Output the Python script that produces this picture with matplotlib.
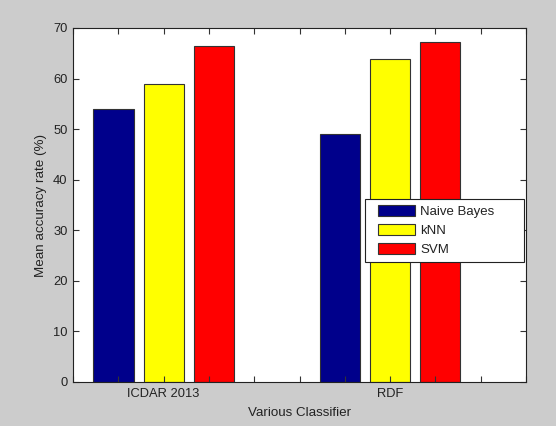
import numpy as np
import matplotlib
matplotlib.use('Agg')
from matplotlib import pyplot as plt
from matplotlib.ticker import MultipleLocator
from matplotlib.container import BarContainer
from matplotlib.legend_handler import HandlerPatch, update_from_first_child

## Data
groups = ['ICDAR 2013', 'RDF']
series = ['Naive Bayes', 'kNN', 'SVM']
naive_bayes = [54.0, 49.0]
knn = [59.0, 63.9]
svm = [66.4, 67.2]
colors = ['#00008b', '#ffff00', '#ff0000']

plt.rcParams['font.family'] = ['Liberation Sans', 'DejaVu Sans']
plt.rcParams['font.size'] = 9

fig = plt.figure(figsize=(5.56, 4.26), dpi=100, facecolor='#cccccc')
ax = fig.add_axes([73/556, 1-382/426, (526-73)/556, (382-28)/426])

x = np.arange(1, len(groups)+1)
width = 0.177
offset = 0.221
for i, (vals, name) in enumerate(zip([naive_bayes, knn, svm], series)):
    ax.bar(x + (i-1)*offset, vals, width, color=colors[i], edgecolor='#333333',
           linewidth=0.8, label=name)

ax.set_xlim(0.6, 2.6)
ax.set_ylim(0, 70)
ax.set_xticks(x)
ax.set_xticklabels(groups)
ax.xaxis.set_minor_locator(MultipleLocator(0.2))
ax.yaxis.set_major_locator(MultipleLocator(10))
ax.tick_params(which='both', direction='in', top=True, right=True, length=4,
               width=0.8, colors='#333333', labelcolor='#222222', labelsize=9.3, pad=4)
for sp in ax.spines.values():
    sp.set_color('#222222')
    sp.set_linewidth(0.8)

ax.set_xlabel('Various Classifier', color='#222222', labelpad=5.5, fontsize=9.6)
ax.set_ylabel('Mean accuracy rate (%)', color='#222222', labelpad=4.5, fontsize=9.6)

# legend box, stretched to the width matlab uses
hmap = {BarContainer: HandlerPatch(update_func=update_from_first_child, xpad=0.57, ypad=0.05)}
leg = ax.legend(loc='lower left', bbox_to_anchor=(0.645, 0.339, 0.351, 0.181),
                mode='expand', borderaxespad=0, fancybox=False, framealpha=1,
                edgecolor='#222222', handlelength=3.37, handleheight=1.05,
                borderpad=0.42, labelspacing=0.42, handletextpad=0.38,
                fontsize=9.5, handler_map=hmap)
leg.get_frame().set_linewidth(0.8)
for t in leg.get_texts():
    t.set_color('#222222')

fig.savefig('out.png', dpi=100, facecolor=fig.get_facecolor())
